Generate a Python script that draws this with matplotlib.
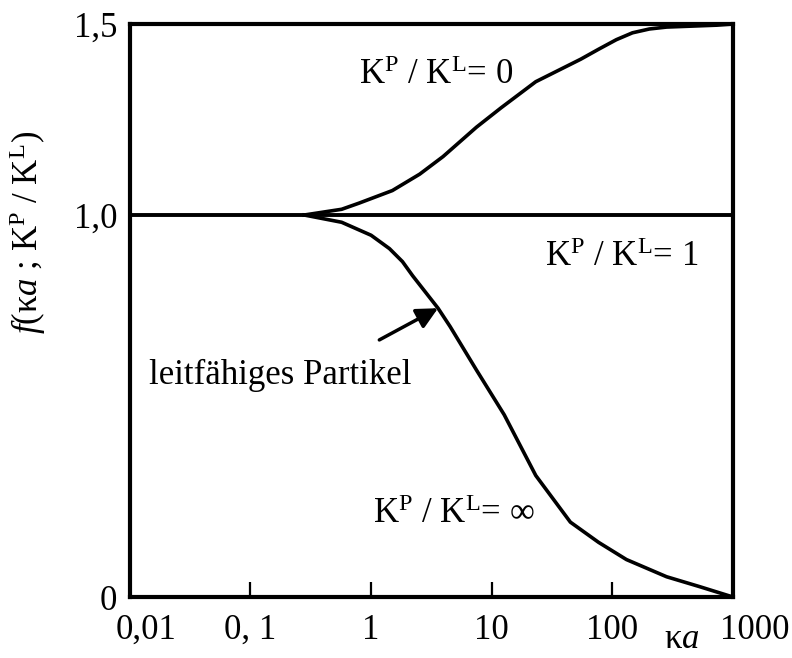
import numpy as np
import matplotlib.pyplot as plt
import matplotlib.transforms as mtransforms

plt.rcParams['font.family'] = 'Liberation Serif'
plt.rcParams['mathtext.fontset'] = 'custom'
plt.rcParams['mathtext.rm'] = 'Liberation Serif'
plt.rcParams['mathtext.it'] = 'Liberation Serif:italic'
plt.rcParams['mathtext.bf'] = 'Liberation Serif:bold'

# f(ka) fuer K^P/K^L = 0 (nichtleitend)
ka_null = [0.279, 0.57, 0.793, 1.5, 2.53, 3.95, 7.48, 12.0, 23.2, 54.8, 77,
           108, 147, 203, 282, 736, 1000]
f_null = [1.0, 1.015, 1.031, 1.064, 1.107, 1.153, 1.230, 1.281, 1.349, 1.408,
          1.434, 1.459, 1.477, 1.487, 1.492, 1.497, 1.5]

# f(ka) fuer K^P/K^L = unendlich (leitend)
ka_unendl = [0.279, 0.57, 1.0, 1.42, 1.82, 2.21, 3.59, 4.52, 7.48, 12.7, 23.2,
             44.9, 77, 131, 282, 531, 1000]
f_unendl = [1.0, 0.981, 0.947, 0.912, 0.878, 0.841, 0.756, 0.708, 0.594, 0.477,
            0.318, 0.196, 0.143, 0.098, 0.053, 0.027, 0.0]

# K^P/K^L = 1
ka_eins = [0.01, 1000]
f_eins = [1.0, 1.0]

x_ticks = [0.01, 0.1, 1, 10, 100, 1000]
x_labels = ['0,01', '0, 1', '1', '10', '100', '1000']
y_ticks = [0, 1.0, 1.5]
y_labels = ['0', '1,0', '1,5']

fs = 25
fig = plt.figure(figsize=(7.92, 6.58), dpi=100)
ax = fig.add_axes([0.164, 0.0927, 0.7614, 0.8708])

ax.plot(ka_null, f_null, color='k', lw=2.6)
ax.plot(ka_unendl, f_unendl, color='k', lw=2.6)
ax.plot(ka_eins, f_eins, color='k', lw=2.8)

ax.set_xscale('log')
ax.set_xlim(0.01, 1000)
ax.set_ylim(0, 1.5)
ax.set_xticks(x_ticks)
ax.set_xticklabels(x_labels, fontsize=fs)
ax.xaxis.set_minor_locator(plt.NullLocator())
ax.set_yticks(y_ticks)
ax.set_yticklabels(y_labels, fontsize=fs)
ax.tick_params(axis='x', direction='in', length=11, width=1.6, pad=12)
ax.tick_params(axis='y', length=0, pad=9)
for s in ax.spines.values():
    s.set_linewidth(3)

# Randbeschriftungen etwas nach rechts versetzen
lbls = ax.get_xticklabels()
for lbl, dx in [(lbls[0], 12), (lbls[-1], 16)]:
    lbl.set_transform(lbl.get_transform() +
                      mtransforms.ScaledTranslation(dx / 72, 0, fig.dpi_scale_trans))

ax.text(3.48, 1.366, r'K$^{\mathrm{P}}$ / K$^{\mathrm{L}}$= 0', fontsize=fs,
        ha='center', va='center')
ax.text(119, 0.932, r'K$^{\mathrm{P}}$ / K$^{\mathrm{L}}$= 1', fontsize=fs,
        ha='center', va='top')
ax.text(4.83, 0.217, r'K$^{\mathrm{P}}$ / K$^{\mathrm{L}}$= $\infty$', fontsize=fs,
        ha='center', va='center')
ax.text(0.0145, 0.58, 'leitfähiges Partikel', fontsize=fs, ha='left', va='center')

ax.annotate('', xy=(3.59, 0.756), xytext=(1.17, 0.673),
            arrowprops=dict(arrowstyle='-|>', color='k', lw=2.5,
                            mutation_scale=32, shrinkA=0, shrinkB=0))

fig.text(682 / 792, 1 - 656 / 658, 'κ$a$', fontsize=fs, ha='center',
         va='bottom')
fig.text(28 / 792, 1 - 232 / 658,
         r'$f$(κ$a$ ; K$^{\mathrm{P}}$ / K$^{\mathrm{L}}$)',
         fontsize=fs, rotation=90, ha='center', va='center')

fig.savefig('out.png', dpi=100)
